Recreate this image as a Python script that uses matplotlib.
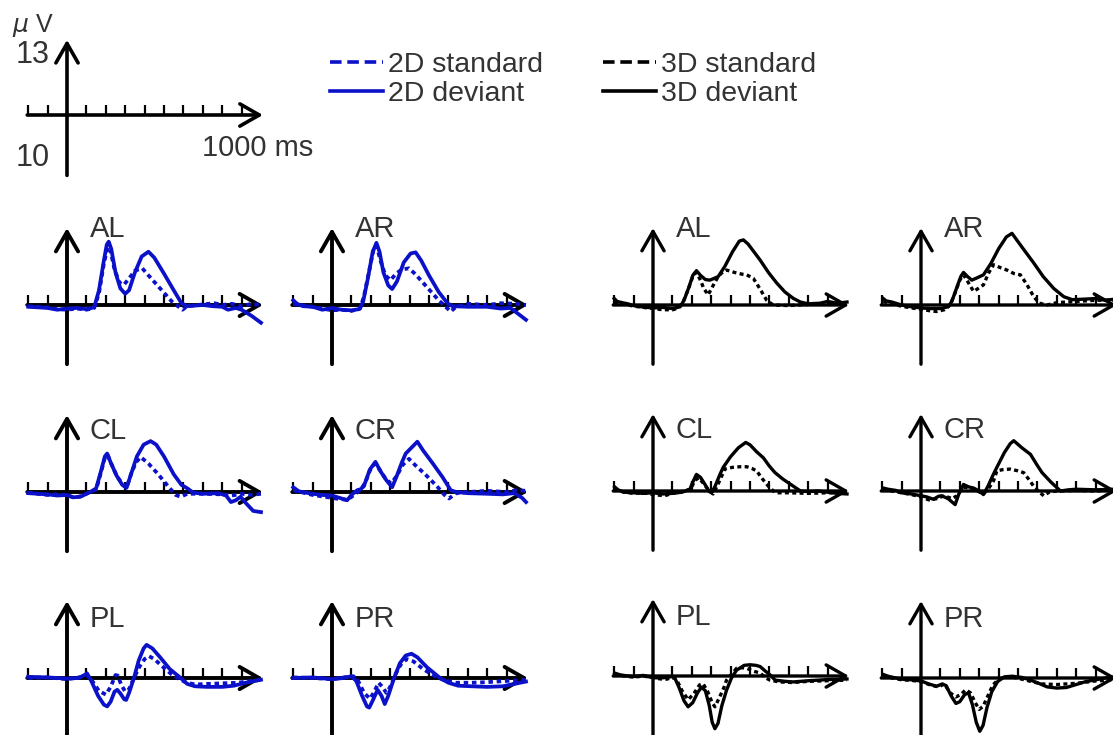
import matplotlib
matplotlib.use("Agg")
import matplotlib.pyplot as plt
from matplotlib.lines import Line2D

plt.rcParams['font.family'] = ['Liberation Sans', 'DejaVu Sans']

# ---- data: (time ms, amplitude uV) ----
# 2D condition (blue)
AL_2D_STD = [(-200,-0.2),(-100,-0.4),(-50,-0.7),(0,-0.8),(50,-0.6),(100,-0.8),(140,-0.5),(165,2.0),(190,7.0),(210,9.8),(222,9.5),(245,6.0),(270,3.8),(293,3.4),(320,4.5),(350,5.8),(388,6.2),(420,5.0),(480,2.8),(540,0.6),(595,-0.8),(620,-0.2),(700,0.1),(760,0.3),(800,0.0),(850,0.2),(900,-0.2),(950,0.2),(1000,0.0)]
AL_2D_DEV = [(-200,-0.3),(-150,-0.4),(-100,-0.5),(-50,-0.8),(0,-0.6),(50,-0.5),(100,-0.7),(140,-0.4),(165,2.5),(190,7.5),(205,10.2),(215,10.7),(228,9.5),(250,5.5),(275,2.8),(300,1.9),(320,2.5),(350,5.5),(385,8.2),(420,9.0),(450,8.0),(500,5.3),(550,2.5),(590,0.3),(620,-0.2),(700,0.0),(750,-0.2),(800,-0.3),(830,-0.8),(870,-0.5),(900,-0.8),(950,-1.8),(1000,-3.0)]
AR_2D_STD = [(-200,0.2),(-100,-0.3),(-50,-0.6),(0,-0.9),(50,-0.8),(100,-1.0),(145,-0.6),(165,1.5),(190,5.5),(215,9.5),(230,10.0),(250,7.5),(275,5.0),(302,4.2),(330,5.3),(360,6.0),(397,6.2),(430,5.2),(490,3.0),(550,0.8),(612,-1.1),(640,-0.3),(700,0.2),(800,0.0),(870,0.3),(950,0.2),(1000,0.0)]
AR_2D_DEV = [(-200,0.8),(-180,0.2),(-150,-0.2),(-100,-0.3),(-50,-0.8),(0,-0.5),(50,-0.8),(100,-0.9),(140,-0.7),(160,0.5),(185,4.5),(210,9.0),(229,10.5),(245,9.0),(265,5.5),(290,3.3),(310,2.7),(335,4.0),(370,7.2),(405,8.7),(431,8.9),(460,7.5),(500,5.0),(550,2.2),(595,0.3),(620,-0.2),(700,-0.3),(800,-0.3),(870,-0.6),(920,-0.5),(960,-1.5),(1000,-2.5)]
CL_2D_STD = [(-200,-0.1),(-100,-0.5),(-50,-0.4),(0,-0.5),(40,-1.0),(80,-0.6),(120,0.0),(150,0.4),(175,3.3),(197,6.0),(210,6.2),(228,4.8),(258,2.6),(290,1.2),(307,0.7),(330,3.0),(355,5.0),(380,5.9),(420,4.8),(470,3.0),(520,1.0),(560,-0.5),(586,-0.8),(620,-0.3),(700,-0.3),(800,-0.4),(850,-0.6),(900,-0.3),(950,-0.5),(1000,-0.3)]
CL_2D_DEV = [(-200,-0.2),(-150,-0.3),(-100,-0.4),(-50,-0.6),(0,-0.5),(30,-0.9),(70,-0.8),(100,-0.3),(120,0.0),(150,0.6),(175,3.5),(195,6.0),(207,6.5),(225,5.0),(255,2.8),(285,1.2),(307,0.7),(330,3.0),(360,6.0),(395,8.0),(431,8.6),(460,8.0),(500,6.0),(550,3.0),(590,1.2),(621,0.6),(650,-0.1),(700,-0.3),(780,-0.2),(820,-0.6),(845,-1.7),(870,-1.4),(895,-0.8),(920,-1.8),(960,-3.2),(1000,-3.4)]
CR_2D_STD = [(-200,0.3),(-100,-0.5),(-40,-0.8),(0,-1.0),(40,-1.2),(80,-1.3),(110,-0.6),(140,0.2),(165,1.0),(195,3.6),(220,4.8),(245,3.8),(275,2.3),(305,1.4),(335,2.8),(365,4.6),(397,5.6),(430,4.5),(480,3.0),(540,1.0),(580,-0.5),(603,-1.1),(640,-0.2),(700,0.0),(800,0.2),(900,0.0),(950,0.3),(1000,0.2)]
CR_2D_DEV = [(-200,0.8),(-170,0.1),(-100,-0.3),(-50,-0.5),(0,-0.6),(40,-1.0),(78,-1.4),(100,-0.5),(130,0.3),(150,0.5),(170,1.5),(195,3.8),(224,5.1),(250,3.5),(280,2.0),(310,0.8),(335,2.8),(360,5.0),(380,6.5),(410,7.5),(440,8.5),(470,7.0),(520,4.8),(570,2.5),(612,0.3),(640,0.0),(700,-0.2),(800,-0.3),(880,-0.4),(940,-0.2),(980,-1.0),(1000,-1.7)]
PL_2D_STD = [(-200,0.0),(-100,0.1),(0,-0.2),(80,0.2),(103,0.5),(130,-0.5),(165,-2.2),(200,-2.8),(225,-1.5),(250,0.5),(262,0.4),(280,-1.2),(300,-2.3),(318,-2.0),(345,0.0),(375,2.0),(400,3.2),(422,3.7),(450,3.2),(490,2.0),(540,0.6),(570,0.0),(610,-0.7),(660,-1.1),(720,-1.0),(800,-0.9),(880,-0.8),(950,-0.5),(1000,-0.3)]
PL_2D_DEV = [(-200,0.2),(-100,0.1),(0,-0.1),(60,0.0),(90,0.5),(103,0.8),(125,-0.5),(160,-3.0),(190,-4.5),(207,-4.8),(225,-4.0),(245,-2.3),(259,-2.0),(275,-2.6),(295,-3.6),(305,-3.7),(320,-2.5),(345,0.0),(370,3.0),(395,5.0),(410,5.6),(440,5.0),(480,3.5),(530,1.5),(586,0.0),(620,-1.0),(660,-1.4),(720,-1.5),(800,-1.5),(860,-1.3),(920,-0.8),(1000,-0.3)]
PR_2D_STD = [(-200,0.1),(-100,0.0),(0,-0.2),(80,0.2),(110,0.3),(135,-0.5),(165,-2.5),(195,-3.5),(215,-2.5),(240,-0.8),(260,-1.5),(280,-2.5),(300,-1.5),(325,0.5),(355,2.3),(385,3.2),(420,2.8),(470,1.5),(530,0.3),(580,-0.4),(640,-0.8),(720,-0.8),(800,-0.7),(900,-0.5),(1000,-0.3)]
PR_2D_DEV = [(-200,0.0),(-100,0.1),(0,-0.2),(60,0.0),(100,0.3),(125,-0.5),(155,-3.0),(180,-4.8),(192,-5.0),(210,-3.8),(235,-2.0),(255,-3.0),(272,-4.4),(290,-3.0),(320,0.0),(350,2.5),(380,3.8),(410,4.1),(440,3.5),(490,1.8),(557,0.0),(600,-0.8),(650,-1.3),(720,-1.4),(800,-1.5),(880,-1.4),(940,-1.0),(1000,-0.6)]

# 3D condition (black)
AL_3D_STD = [(-200,0.5),(-150,0.2),(-100,-0.2),(-50,-0.4),(0,-0.6),(50,-0.8),(103,-0.8),(130,-0.5),(155,0.5),(180,2.5),(205,4.8),(222,5.5),(240,4.5),(262,2.8),(284,1.7),(305,3.0),(336,4.8),(360,5.6),(380,5.9),(420,5.5),(460,5.2),(483,5.1),(517,4.5),(550,2.8),(586,0.8),(620,0.0),(700,-0.1),(800,0.1),(900,0.2),(1000,0.4)]
AL_3D_DEV = [(-200,1.1),(-185,0.6),(-160,0.4),(-130,0.2),(-100,-0.1),(-60,-0.3),(0,-0.5),(50,-0.4),(100,-0.6),(140,-0.3),(160,0.8),(185,3.0),(205,5.0),(224,5.8),(245,5.0),(270,4.3),(293,4.2),(315,4.5),(336,4.8),(370,6.5),(410,9.0),(445,10.8),(466,11.0),(490,10.3),(520,9.0),(552,7.6),(595,5.5),(638,3.7),(680,2.2),(724,1.1),(760,0.5),(800,0.2),(860,0.3),(900,0.6),(950,0.3),(1000,0.5)]
AR_3D_STD = [(-195,0.6),(-150,0.2),(-100,-0.2),(-50,-0.5),(0,-0.7),(50,-1.0),(81,-1.1),(120,-0.8),(150,0.0),(175,2.0),(200,4.2),(219,5.1),(240,4.0),(271,2.3),(295,2.8),(322,3.4),(350,5.5),(374,6.8),(410,6.3),(443,5.9),(480,5.3),(512,5.1),(545,3.5),(581,1.4),(610,0.3),(650,0.0),(700,0.4),(800,0.6),(900,0.8),(1000,0.8)]
AR_3D_DEV = [(-195,1.1),(-180,0.7),(-150,0.5),(-100,0.0),(-50,-0.3),(0,-0.5),(50,-0.6),(100,-0.6),(140,-0.3),(159,0.6),(185,3.0),(205,4.8),(219,5.5),(240,4.8),(262,4.2),(290,4.6),(322,5.1),(360,7.0),(400,9.5),(440,11.5),(469,12.1),(520,9.8),(581,7.1),(630,4.8),(684,2.8),(736,1.4),(780,0.9),(850,1.0),(900,1.1),(950,0.8),(1000,1.0)]
CL_3D_STD = [(-198,0.3),(-150,-0.2),(-100,-0.4),(-50,-0.3),(0,-0.6),(60,-0.8),(100,-0.4),(150,-0.1),(195,0.3),(215,1.8),(235,2.2),(260,1.3),(285,0.2),(310,-0.5),(340,1.5),(370,3.7),(410,4.0),(450,4.1),(483,4.1),(510,3.8),(534,3.4),(565,2.0),(595,0.8),(630,-0.3),(700,-0.3),(800,-0.4),(900,-0.3),(1000,-0.3)]
CL_3D_DEV = [(-198,0.7),(-180,0.2),(-150,-0.2),(-100,-0.3),(-50,-0.4),(0,-0.3),(50,-0.5),(100,-0.4),(150,-0.2),(190,0.3),(205,1.5),(224,2.8),(245,2.3),(270,1.0),(290,-0.1),(302,-0.3),(320,0.8),(345,2.8),(362,4.0),(400,5.8),(440,7.3),(478,8.2),(500,7.8),(535,6.6),(569,5.6),(600,4.2),(629,3.1),(670,2.0),(724,0.8),(760,0.0),(800,-0.1),(850,0.0),(900,-0.2),(950,-0.4),(1000,-0.5)]
CR_3D_STD = [(-195,0.3),(-150,0.0),(-100,-0.3),(-50,-0.6),(0,-1.0),(40,-1.5),(80,-1.3),(120,-0.8),(160,-1.3),(185,-0.8),(215,0.6),(250,0.6),(290,0.0),(322,-0.5),(350,0.5),(375,1.8),(391,3.4),(420,3.6),(460,3.7),(500,3.4),(529,3.1),(555,2.0),(581,0.8),(610,-0.2),(633,-0.8),(660,-0.2),(700,0.0),(800,0.1),(900,0.0),(1000,0.2)]
CR_3D_DEV = [(-195,0.5),(-170,0.3),(-130,0.1),(-100,-0.3),(-50,-0.5),(0,-0.8),(30,-1.0),(64,-1.4),(90,-0.9),(107,-0.8),(140,-1.3),(176,-2.3),(195,-0.5),(219,1.1),(245,0.7),(271,0.5),(300,0.0),(322,-0.6),(345,0.8),(370,2.6),(391,4.0),(430,6.5),(460,8.0),(478,8.5),(520,7.3),(564,6.2),(600,4.3),(624,3.1),(670,1.5),(719,0.0),(760,0.2),(800,0.3),(900,0.2),(1000,0.3)]
PL_3D_STD = [(-198,0.3),(-150,0.0),(-100,-0.2),(-50,0.0),(0,-0.3),(60,-0.6),(100,-0.3),(120,-0.5),(150,-2.5),(181,-4.0),(210,-3.0),(240,-1.5),(258,-1.3),(280,-2.5),(305,-4.5),(319,-5.2),(340,-3.8),(365,-2.0),(379,-0.7),(410,0.5),(431,1.3),(460,1.4),(483,1.3),(520,0.8),(552,0.5),(580,-0.3),(603,-0.7),(650,-1.0),(720,-1.1),(800,-0.9),(900,-0.8),(1000,-0.7)]
PL_3D_DEV = [(-198,0.5),(-170,0.2),(-130,0.0),(-100,-0.1),(-50,0.1),(0,-0.3),(50,-0.3),(100,-0.1),(112,-0.3),(135,-2.0),(160,-4.2),(181,-5.2),(205,-4.5),(230,-2.8),(250,-1.9),(270,-2.5),(290,-5.0),(305,-7.8),(319,-8.9),(335,-8.0),(355,-5.0),(379,-2.4),(405,-0.3),(431,1.0),(470,1.8),(500,1.9),(530,1.8),(552,1.6),(580,0.8),(603,0.2),(630,-0.7),(680,-0.9),(724,-1.0),(800,-0.8),(900,-0.6),(1000,-0.5)]
PR_3D_STD = [(-195,0.3),(-150,0.0),(-100,-0.3),(-50,-0.4),(0,-0.6),(50,-1.2),(90,-1.5),(120,-1.0),(150,-2.5),(180,-3.2),(205,-2.8),(230,-2.0),(255,-2.5),(280,-4.2),(300,-5.3),(320,-4.8),(345,-3.0),(370,-1.2),(400,-0.2),(440,0.2),(480,0.1),(520,-0.2),(570,-0.6),(620,-1.0),(700,-1.1),(800,-0.9),(900,-0.5),(1000,-0.3)]
PR_3D_DEV = [(-195,0.6),(-170,0.3),(-130,0.0),(-100,-0.2),(-50,-0.3),(0,-0.5),(40,-1.0),(80,-1.4),(110,-1.0),(130,-1.3),(155,-3.0),(180,-4.3),(200,-4.0),(225,-2.8),(245,-2.5),(265,-4.5),(285,-7.5),(303,-9.0),(320,-8.0),(340,-5.0),(365,-2.3),(395,-0.6),(430,0.2),(470,0.3),(520,0.1),(560,-0.3),(600,-0.8),(650,-1.5),(700,-1.7),(750,-1.6),(800,-1.1),(850,-0.6),(900,-0.3),(950,0.0),(1000,0.2)]

TICKS = [-200, -100, 100, 200, 300, 400, 500, 600, 700, 800, 900]

BLUE = '#0b10c9'
TXT = '#333333'

# panel layout: label, pixel x of t=0, pixel y of 0 uV, colour, standard, deviant
panels = [
    ('AL', 67, 305, BLUE, AL_2D_STD, AL_2D_DEV),
    ('AR', 332, 305, BLUE, AR_2D_STD, AR_2D_DEV),
    ('AL', 653, 305, 'black', AL_3D_STD, AL_3D_DEV),
    ('AR', 921, 305, 'black', AR_3D_STD, AR_3D_DEV),
    ('CL', 67, 492, BLUE, CL_2D_STD, CL_2D_DEV),
    ('CR', 332, 492, BLUE, CR_2D_STD, CR_2D_DEV),
    ('CL', 653, 491, 'black', CL_3D_STD, CL_3D_DEV),
    ('CR', 921, 491, 'black', CR_3D_STD, CR_3D_DEV),
    ('PL', 67, 678, BLUE, PL_2D_STD, PL_2D_DEV),
    ('PR', 332, 678, BLUE, PR_2D_STD, PR_2D_DEV),
    ('PL', 653, 676, 'black', PL_3D_STD, PL_3D_DEV),
    ('PR', 921, 678, 'black', PR_3D_STD, PR_3D_DEV),
]
label_y = {305: 11.5, 492: 9.0, 491: 9.0, 678: 8.6, 676: 8.6}

W, H = 1113, 735
PX_MS = 0.194
PX_UV = 5.92
XLIM = (-260, 1060)
YLIM = (-11.5, 14.5)

fig = plt.figure(figsize=(W / 100, H / 100), dpi=100)


def make_ax(x0, y0):
    left = x0 + XLIM[0] * PX_MS
    top = y0 - YLIM[1] * PX_UV
    w = (XLIM[1] - XLIM[0]) * PX_MS
    h = (YLIM[1] - YLIM[0]) * PX_UV
    ax = fig.add_axes([left / W, 1 - (top + h) / H, w / W, h / H])
    ax.set_xlim(XLIM)
    ax.set_ylim(YLIM)
    ax.axis('off')
    return ax


def draw_axes(ax, top=13.0, bottom=-10.0, lw=2.6):
    arrow = dict(arrowstyle='->,head_length=1.4,head_width=0.8', lw=lw,
                 color='black', shrinkA=0, shrinkB=0, mutation_scale=10)
    ax.annotate('', xy=(1010, 0), xytext=(-205, 0), arrowprops=arrow,
                annotation_clip=False, zorder=2)
    ax.annotate('', xy=(0, top), xytext=(0, bottom), arrowprops=arrow,
                annotation_clip=False, zorder=2)
    ax.vlines(TICKS, 0, 1.7, color='black', lw=1.6, zorder=2)


# scale bar top left
sax = make_ax(67, 115)
draw_axes(sax, top=12.7, bottom=-10.2, lw=2.6)
sax.text(-284, 14.0, r'$\mu$ V', fontsize=18, color=TXT, va='baseline', ha='left')
sax.text(-88, 10.1, '13', fontsize=22, color=TXT, va='center', ha='right')
sax.text(-88, -7.2, '10', fontsize=22, color=TXT, va='center', ha='right')
sax.text(696, -6.9, '1000 ms', fontsize=21, color=TXT, va='baseline', ha='left')

for name, x0, y0, col, std, dev in panels:
    ax = make_ax(x0, y0)
    blue = col == BLUE
    draw_axes(ax, lw=2.8 if blue else 2.4)
    ts, vs = zip(*std)
    td, vd = zip(*dev)
    lw = 2.7 if blue else 2.4
    ax.plot(ts, vs, color=col, lw=lw, ls=(0, (1.2, 1.0)), clip_on=False, zorder=3)
    ax.plot(td, vd, color=col, lw=lw, clip_on=False, zorder=3)
    ax.text(118, label_y[y0], name, fontsize=21, color=TXT, va='baseline', ha='left')

# legends
for x_px, col, tag in [(330, BLUE, '2D'), (603, 'black', '3D')]:
    handles = [Line2D([], [], color=col, lw=2.6, ls=(0, (3.2, 1.6))),
               Line2D([], [], color=col, lw=2.6)]
    fig.legend(handles, [tag + ' standard', tag + ' deviant'], loc='upper left',
               bbox_to_anchor=(x_px / W, 1 - 52 / H), frameon=False,
               borderpad=0, borderaxespad=0, handlelength=1.85,
               handletextpad=0.2, labelspacing=0.12, fontsize=20.5,
               labelcolor=TXT)

fig.savefig('out.png', dpi=100)
